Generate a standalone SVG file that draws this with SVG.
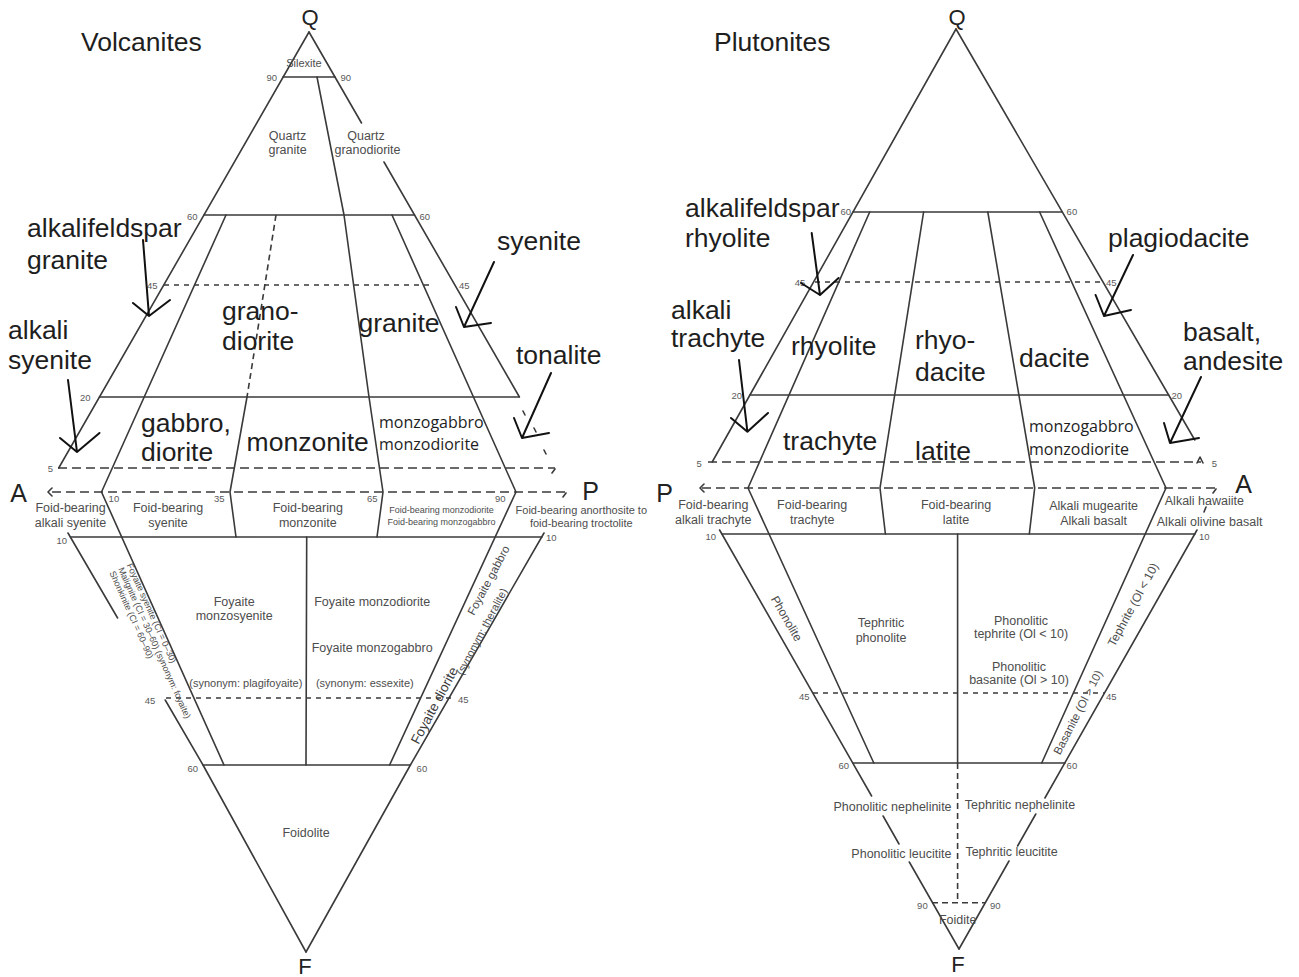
<svg xmlns="http://www.w3.org/2000/svg" width="1299" height="977" viewBox="0 0 1299 977">
<style>
.ln{fill:none;stroke:#3a3a3a;stroke-width:1.6;stroke-linejoin:round;stroke-linecap:round}
.d1{stroke-dasharray:9 5;stroke-linecap:butt}
.d2{stroke-dasharray:5 5;stroke-linecap:butt}
.d3{stroke-dasharray:6 4;stroke-linecap:butt}
.ar{fill:none;stroke:#111;stroke-width:2;stroke-linecap:round;stroke-linejoin:round}
text{font-family:"Liberation Sans",Arial,sans-serif}
.big{font-size:26.5px;fill:#1e1e1e}
.vx{font-size:22px;fill:#222;text-anchor:middle}
.vx2{font-size:25px;fill:#222;text-anchor:middle}
.g{font-size:12.5px;fill:#4d4d4d;text-anchor:middle}
.gm{font-size:11px;fill:#4d4d4d;text-anchor:middle}
.gs{font-size:9px;fill:#4d4d4d;text-anchor:middle}
.r9{font-size:9px;fill:#4d4d4d}
.r12{font-size:12px;fill:#4d4d4d}
.n{font-size:9.5px;fill:#5a5a5a}
.ne{text-anchor:end}
.mz{font-family:"Open Sans",sans-serif;font-size:16px;fill:#1e1e1e}
</style>
<rect width="1299" height="977" fill="#ffffff"/>

<!-- LEFT DIAGRAM -->
<g id="left-lines">
<path class="ln" d="M309,32 L58.7,468"/>
<path class="ln" d="M309,32 L361.5,123 M384,162 L519.4,397"/>
<path class="ln" d="M283,77 L335,77"/>
<path class="ln" d="M204,215 L414.5,215"/>
<path class="ln d2" d="M164,285 L431,285"/>
<path class="ln" d="M99.5,397 L519,397"/>
<path class="ln d1" d="M58,468 L555,468"/>
<path class="ln d1" d="M52,492 L566,492"/>
<path class="ln" d="M226,215 L101.5,492 L224,765"/>
<path class="ln d3" d="M276,215 L247,397"/>
<path class="ln" d="M247,397 L230,492 L236,537"/>
<path class="ln" d="M317,77 L344,215 L369,397 L383,492 L377,537"/>
<path class="ln" d="M392,215 L516,492 L389.6,765"/>
<path class="ln" d="M70.5,537 L542,537"/>
<path class="ln" d="M306.7,537 L306,765"/>
<path class="ln" d="M68,533 L117.6,618 M165.2,700 L203,765 L306,952"/>
<path class="ln" d="M544,533 L410.4,765 L306,952"/>
<path class="ln d2" d="M166,698 L452,698"/>
<path class="ln" d="M203,765 L410.4,765"/>
<path class="ln" d="M52,488 L48,492 L52,496 M566,493 L563,497 M555,469 L552,473 M523,411 L525,415 M534,428 L536,432 M544,450 L546,454"/>
</g>
<g id="left-numbers" class="n">
<text x="277" y="80.5" class="ne">90</text><text x="340.5" y="80.5">90</text>
<text x="197.5" y="219.5" class="ne">60</text><text x="419.5" y="219.5">60</text>
<text x="157.5" y="288.5" class="ne">45</text><text x="459" y="288.5">45</text>
<text x="90.5" y="400.5" class="ne">20</text>
<text x="53" y="471.5" class="ne">5</text>
<text x="108.6" y="502">10</text><text x="214" y="502">35</text><text x="367" y="502">65</text><text x="495" y="502">90</text>
<text x="67" y="543.5" class="ne">10</text><text x="546" y="541">10</text>
<text x="155.4" y="703.5" class="ne">45</text><text x="458" y="703">45</text>
<text x="198" y="771.5" class="ne">60</text><text x="416.6" y="771.5">60</text>
</g>
<g id="left-fields">
<text class="gm" x="304" y="66.5">Silexite</text>
<text class="g" x="287.6" y="140">Quartz</text><text class="g" x="287.6" y="154">granite</text>
<text class="g" x="366" y="140">Quartz</text><text class="g" x="367.5" y="154">granodiorite</text>
<text class="g" x="70.5" y="512">Foid-bearing</text><text class="g" x="70.5" y="527">alkali syenite</text>
<text class="g" x="168" y="512">Foid-bearing</text><text class="g" x="168" y="527">syenite</text>
<text class="g" x="307.8" y="512">Foid-bearing</text><text class="g" x="307.8" y="527">monzonite</text>
<text class="gs" x="441.5" y="513">Foid-bearing monzodiorite</text><text class="gs" x="441.5" y="525">Foid-bearing monzogabbro</text>
<text class="gm" x="581.3" y="514">Foid-bearing anorthosite to</text><text class="gm" x="581.3" y="527">foid-bearing troctolite</text>
<text class="g" x="234.2" y="606">Foyaite</text><text class="g" x="234.2" y="620">monzosyenite</text>
<text class="g" x="372.2" y="606">Foyaite monzodiorite</text>
<text class="g" x="372.2" y="652">Foyaite monzogabbro</text>
<text class="gm" x="245.8" y="686.5">(synonym: plagifoyaite)</text>
<text class="gm" x="364.8" y="686.5">(synonym: essexite)</text>
<text class="g" x="306" y="837">Foidolite</text>
<g transform="translate(126.6,565) rotate(65.8)" class="r9">
<text x="0" y="0">Foyaite syenite (CI = 0–30)</text>
<text x="0" y="9.5">Malignite (CI = 30–60) (synonym: foyaite)</text>
<text x="0" y="19">Shonkinite (CI = 60–90)</text>
</g>
<text transform="translate(418.5,745) rotate(-62)" style="font-size:13.5px;fill:#3a3a3a">Foyaite diorite</text>
<text transform="translate(462.5,676) rotate(-62)" style="font-size:11px;fill:#4d4d4d">(synonym: theralite)</text>
<text transform="translate(474,616) rotate(-62)" style="font-size:11.5px;fill:#4d4d4d">Foyaite gabbro</text>
</g>
<g id="left-vertices">
<text class="vx" x="310" y="25">Q</text>
<text class="vx2" x="18.5" y="502">A</text>
<text class="vx2" x="590.7" y="500">P</text>
<text class="vx" x="305" y="974">F</text>
</g>

<!-- RIGHT DIAGRAM -->
<g id="right-lines">
<path class="ln" d="M956,29 L712.2,462"/>
<path class="ln" d="M956,29 L1194.8,440"/>
<path class="ln" d="M853,212 L1062.3,212"/>
<path class="ln d2" d="M815,282 L1102,282"/>
<path class="ln" d="M750,395 L1168.6,395"/>
<path class="ln d1" d="M708,462 L1201,462"/>
<path class="ln d1" d="M702,488 L1216,488"/>
<path class="ln" d="M869.7,212 L748,488 L873.8,763"/>
<path class="ln" d="M923.6,212 L880,488 L885.4,534"/>
<path class="ln" d="M987.8,212 L1034.7,488 L1029.3,534"/>
<path class="ln" d="M1039.6,212 L1166,488 L1041.7,763"/>
<path class="ln" d="M722,534 L1195,534"/>
<path class="ln" d="M957.6,534 L957.6,763"/>
<path class="ln d3" d="M957.6,763 L957.6,902.7"/>
<path class="ln d3" d="M932,902.7 L985,902.7"/>
<path class="ln" d="M719.6,530 L871.6,796 M883.1,816 L899,844 M909.3,862 L959,949"/>
<path class="ln" d="M1197,530 L1044.9,798 M1035.8,814 L1017.6,846 M1009,861 L959,949"/>
<path class="ln d2" d="M813,693 L1105,693"/>
<path class="ln" d="M853,763 L1065,763"/>
<path class="ln" d="M704,484 L700,488 L704,492 M1216,489 L1213,493 M1197,463 L1200,457 L1203,463 M1206,507 L1204,512"/>
</g>
<g id="right-numbers" class="n">
<text x="851" y="215" class="ne">60</text><text x="1066.6" y="215">60</text>
<text x="805.4" y="286" class="ne">45</text><text x="1106" y="286">45</text>
<text x="742" y="398.5" class="ne">20</text><text x="1171.4" y="398.5">20</text>
<text x="701.8" y="466.5" class="ne">5</text><text x="1211.7" y="466.5">5</text>
<text x="716" y="539.5" class="ne">10</text><text x="1199" y="539.5">10</text>
<text x="809.6" y="699.5" class="ne">45</text><text x="1106" y="699.5">45</text>
<text x="849" y="768.5" class="ne">60</text><text x="1066.6" y="768.5">60</text>
<text x="927.7" y="908.5" class="ne">90</text><text x="990" y="908.5">90</text>
</g>
<g id="right-fields">
<text class="g" x="713.3" y="509">Foid-bearing</text><text class="g" x="713.3" y="523.5">alkali trachyte</text>
<text class="g" x="812.2" y="509">Foid-bearing</text><text class="g" x="812.2" y="523.5">trachyte</text>
<text class="g" x="956" y="509">Foid-bearing</text><text class="g" x="956" y="523.5">latite</text>
<text class="g" x="1093.6" y="510">Alkali mugearite</text><text class="g" x="1093.6" y="524.5">Alkali basalt</text>
<text class="g" x="1204.4" y="505">Alkali hawaiite</text><text class="g" x="1209.6" y="525.5">Alkali olivine basalt</text>
<text class="g" x="881" y="626.5">Tephritic</text><text class="g" x="881" y="641.5">phonolite</text>
<text class="g" x="1021" y="624.5">Phonolitic</text><text class="g" x="1021" y="638">tephrite (Ol &lt; 10)</text>
<text class="g" x="1019" y="670.5">Phonolitic</text><text class="g" x="1019" y="684">basanite  (Ol &gt; 10)</text>
<text class="g" x="892.5" y="810.5">Phonolitic nephelinite</text>
<text class="g" x="1020" y="809">Tephritic nephelinite</text>
<text class="g" x="901.4" y="858">Phonolitic leucitite</text>
<text class="g" x="1011.6" y="856">Tephritic leucitite</text>
<text class="g" x="957.7" y="924">Foidite</text>
<text class="r12" transform="translate(770.6,598.9) rotate(60)">Phonolite</text>
<text class="r12" transform="translate(1114.5,647.5) rotate(-61.6)">Tephrite (Ol &lt; 10)</text>
<text class="r12" transform="translate(1060,755.5) rotate(-62.7)" style="font-size:11.5px">Basanite (Ol &gt; 10)</text>
</g>
<g id="right-vertices">
<text class="vx" x="957" y="25">Q</text>
<text class="vx2" x="664.5" y="501.7">P</text>
<text class="vx2" x="1243.5" y="493">A</text>
<text class="vx" x="958" y="971.5">F</text>
</g>

<!-- ANNOTATIONS -->
<g id="annotations-left">
<text class="big" x="81" y="51">Volcanites</text>
<text class="big" x="27" y="236.5">alkalifeldspar</text>
<text class="big" x="27" y="268.5">granite</text>
<text class="big" x="8" y="339">alkali</text>
<text class="big" x="8" y="368.5">syenite</text>
<text class="big" x="222" y="320">grano-</text>
<text class="big" x="222" y="350">diorite</text>
<text class="big" x="358.5" y="332">granite</text>
<text class="big" x="497" y="249.5">syenite</text>
<text class="big" x="516" y="364">tonalite</text>
<text class="big" x="141" y="431.5">gabbro,</text>
<text class="big" x="141" y="461">diorite</text>
<text class="big" x="246.6" y="451">monzonite</text>
<text class="mz" x="379" y="428">monzogabbro</text>
<text class="mz" x="379" y="450">monzodiorite</text>
</g>
<g id="annotations-right">
<text class="big" x="714" y="51">Plutonites</text>
<text class="big" x="685" y="216.5">alkalifeldspar</text>
<text class="big" x="685" y="246.5">rhyolite</text>
<text class="big" x="1108" y="246.5">plagiodacite</text>
<text class="big" x="671" y="319">alkali</text>
<text class="big" x="671" y="346.5">trachyte</text>
<text class="big" x="791" y="355">rhyolite</text>
<text class="big" x="915" y="349">rhyo-</text>
<text class="big" x="915" y="381">dacite</text>
<text class="big" x="1019" y="367">dacite</text>
<text class="big" x="1183" y="341">basalt,</text>
<text class="big" x="1183" y="370">andesite</text>
<text class="big" x="783" y="450">trachyte</text>
<text class="big" x="915" y="460">latite</text>
<text class="mz" x="1029" y="432">monzogabbro</text>
<text class="mz" x="1029" y="455">monzodiorite</text>
</g>
<g id="connectors">
<path class="ar" d="M143,240 L149,316 M133,303 L149,316 L170,300"/>
<path class="ar" d="M68,380 L77,452 M60,438 L77,452 L99.5,433"/>
<path class="ar" d="M494,262 L464,327 M456,307 L464,327 L491,323"/>
<path class="ar" d="M551,373 L522,438 M514,418 L522,438 L549,433"/>
<path class="ar" d="M811.7,233 L820,295 M801,283 L820,295 L838.6,278"/>
<path class="ar" d="M1133,255 L1104,316 M1095.6,295 L1104,316 L1131,310"/>
<path class="ar" d="M739,360 L747.4,431.7 M731,418 L747.4,431.7 L768,413"/>
<path class="ar" d="M1201,377 L1170,443 M1164,423 L1170,443 L1199,438"/>
</g>
</svg>
